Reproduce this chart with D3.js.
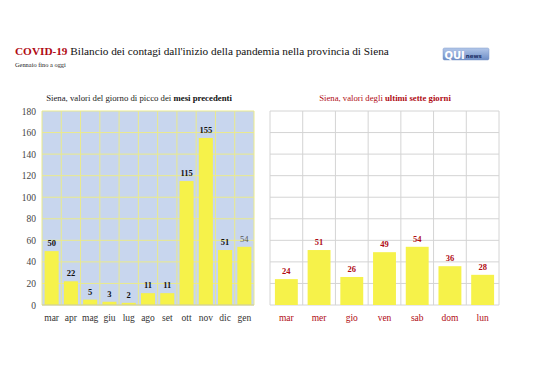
<!DOCTYPE html>
<html><head><meta charset="utf-8">
<script src="https://cdn.jsdelivr.net/npm/d3@7"></script>
<style>body{margin:0;background:#fff}svg{display:block}</style>
</head><body>
<svg id="c" width="538" height="380"></svg>
<script>
const monthCats = ["mar","apr","mag","giu","lug","ago","set","ott","nov","dic","gen"];
const monthVals = [50,22,5,3,2,11,11,115,155,51,54];
const dayCats = ["mar","mer","gio","ven","sab","dom","lun"];
const dayVals = [24,51,26,49,54,36,28];
const yTicks = [0,20,40,60,80,100,120,140,160,180];

const svg = d3.select("#c");
const FONT = "'Liberation Serif', 'DejaVu Serif', serif";
const RED = "#b00b14";
svg.append("rect").attr("width",538).attr("height",380).attr("fill","#fff");

function fit(t, w){
  const n = t.node(); const l = n.getComputedTextLength();
  const fs = parseFloat(t.attr("font-size"));
  t.attr("font-size", fs * w / l);
}

// Title
const title = svg.append("text").attr("x",15).attr("y",55).attr("font-family",FONT).attr("font-size",15).attr("fill","#111");
title.append("tspan").attr("font-weight","bold").attr("fill",RED).text("COVID-19");
title.append("tspan").text(" Bilancio dei contagi dall'inizio della pandemia nella provincia di Siena");
fit(title, 374);
const sub = svg.append("text").attr("x",15).attr("y",67).attr("font-family",FONT).attr("font-size",7).attr("fill","#222").text("Gennaio fino a oggi");
fit(sub, 51);

// Logo
const defs = svg.append("defs");
const grad = defs.append("linearGradient").attr("id","lg").attr("x1",0).attr("y1",0).attr("x2",0).attr("y2",1);
grad.append("stop").attr("offset","0%").attr("stop-color","#b4c8ea");
grad.append("stop").attr("offset","100%").attr("stop-color","#6d8dc6");
const logo = svg.append("g").attr("transform","translate(443,48)");
logo.append("rect").attr("width",46).attr("height",12).attr("rx",1.5).attr("fill","url(#lg)").attr("stroke","#7e98c8").attr("stroke-width",0.5);
const qui = logo.append("text").attr("x",1.5).attr("y",10.5).attr("font-family","'DejaVu Sans', sans-serif").attr("font-weight","bold").attr("font-size",10).attr("fill","#fff").text("QUI");
const quiW = qui.node().getComputedTextLength();
logo.append("text").attr("x",1.5+quiW+1).attr("y",9.5).attr("font-family","'DejaVu Sans', sans-serif").attr("font-weight","bold").attr("font-size",5.5).attr("fill","#1c2f66").text("news");

const y = d3.scaleLinear().domain([0,180]).range([305,111]);

// LEFT CHART
const xL = d3.scaleBand().domain(monthCats).range([42,254]).paddingInner(0.27).paddingOuter(0.135);
const gL = svg.append("g");
gL.append("rect").attr("x",42).attr("y",y(180)).attr("width",212).attr("height",y(0)-y(180)).attr("fill","#c8d6ee");
gL.append("g").selectAll("line").data(yTicks).join("line")
  .attr("x1",42).attr("x2",254).attr("y1",d=>y(d)).attr("y2",d=>y(d)).attr("stroke","#eaea8c").attr("stroke-width",1);
const stepL = xL.step();
gL.append("g").selectAll("line").data(d3.range(12)).join("line")
  .attr("x1",i=>42+i*stepL).attr("x2",i=>42+i*stepL).attr("y1",y(180)).attr("y2",y(0)).attr("stroke","#eaea8c").attr("stroke-width",1);
gL.selectAll(".bar").data(monthVals).join("rect")
  .attr("x",(d,i)=>xL(monthCats[i])).attr("width",xL.bandwidth())
  .attr("y",d=>y(d)).attr("height",d=>y(0)-y(d)).attr("fill","#f6f24a");
gL.append("line").attr("x1",42).attr("x2",254).attr("y1",y(0)).attr("y2",y(0)).attr("stroke","#c8c8a8");
gL.selectAll(".vl").data(monthVals).join("text")
  .attr("x",(d,i)=>xL(monthCats[i])+xL.bandwidth()/2).attr("y",d=>y(d)-5)
  .attr("text-anchor","middle").attr("font-family",FONT).attr("font-size",8.5)
  .attr("font-weight",(d,i)=>i===monthVals.length-1?"normal":"bold")
  .attr("fill",(d,i)=>i===monthVals.length-1?"#555":"#111").text(d=>d);
const axL = d3.axisLeft(y).tickValues(yTicks).tickSize(0).tickPadding(6);
const axLg = svg.append("g").attr("transform","translate(42,0)").call(axL);
axLg.select(".domain").remove();
axLg.selectAll("text").attr("font-family",FONT).attr("font-size",9.5).attr("fill","#444");
const axB = d3.axisBottom(xL).tickSize(0).tickPadding(9);
const axBg = svg.append("g").attr("transform","translate(0,305)").call(axB);
axBg.select(".domain").remove();
axBg.selectAll("text").attr("font-family",FONT).attr("font-size",9.5).attr("fill","#333");
const tL = svg.append("text").attr("x",139).attr("y",101).attr("text-anchor","middle").attr("font-family",FONT).attr("font-size",9).attr("fill","#222");
tL.append("tspan").text("Siena, valori del giorno di picco dei ");
tL.append("tspan").attr("font-weight","bold").attr("fill","#111").text("mesi precedenti");
fit(tL, 186);

// RIGHT CHART
const xR = d3.scaleBand().domain(dayCats).range([270,499]).paddingInner(0.3).paddingOuter(0.15);
const gR = svg.append("g");
gR.append("g").selectAll("line").data(yTicks).join("line")
  .attr("x1",270).attr("x2",499).attr("y1",d=>y(d)).attr("y2",d=>y(d)).attr("stroke","#d4d4d4");
const stepR = xR.step();
gR.append("g").selectAll("line").data(d3.range(8)).join("line")
  .attr("x1",i=>270+i*stepR).attr("x2",i=>270+i*stepR).attr("y1",y(180)).attr("y2",y(0)).attr("stroke","#d4d4d4");
gR.selectAll(".bar").data(dayVals).join("rect")
  .attr("x",(d,i)=>xR(dayCats[i])).attr("width",xR.bandwidth())
  .attr("y",d=>y(d)).attr("height",d=>y(0)-y(d)).attr("fill","#f6f24a");
gR.selectAll(".vl").data(dayVals).join("text")
  .attr("x",(d,i)=>xR(dayCats[i])+xR.bandwidth()/2).attr("y",d=>y(d)-5)
  .attr("text-anchor","middle").attr("font-family",FONT).attr("font-size",8.5).attr("font-weight","bold")
  .attr("fill",RED).text(d=>d);
const axR = d3.axisBottom(xR).tickSize(0).tickPadding(9);
const axRg = svg.append("g").attr("transform","translate(0,305)").call(axR);
axRg.select(".domain").remove();
axRg.selectAll("text").attr("font-family",FONT).attr("font-size",9.5).attr("fill",RED);
const tR = svg.append("text").attr("x",385).attr("y",101).attr("text-anchor","middle").attr("font-family",FONT).attr("font-size",9).attr("fill",RED);
tR.append("tspan").text("Siena, valori degli ");
tR.append("tspan").attr("font-weight","bold").text("ultimi sette giorni");
fit(tR, 132);
</script>
</body></html>
